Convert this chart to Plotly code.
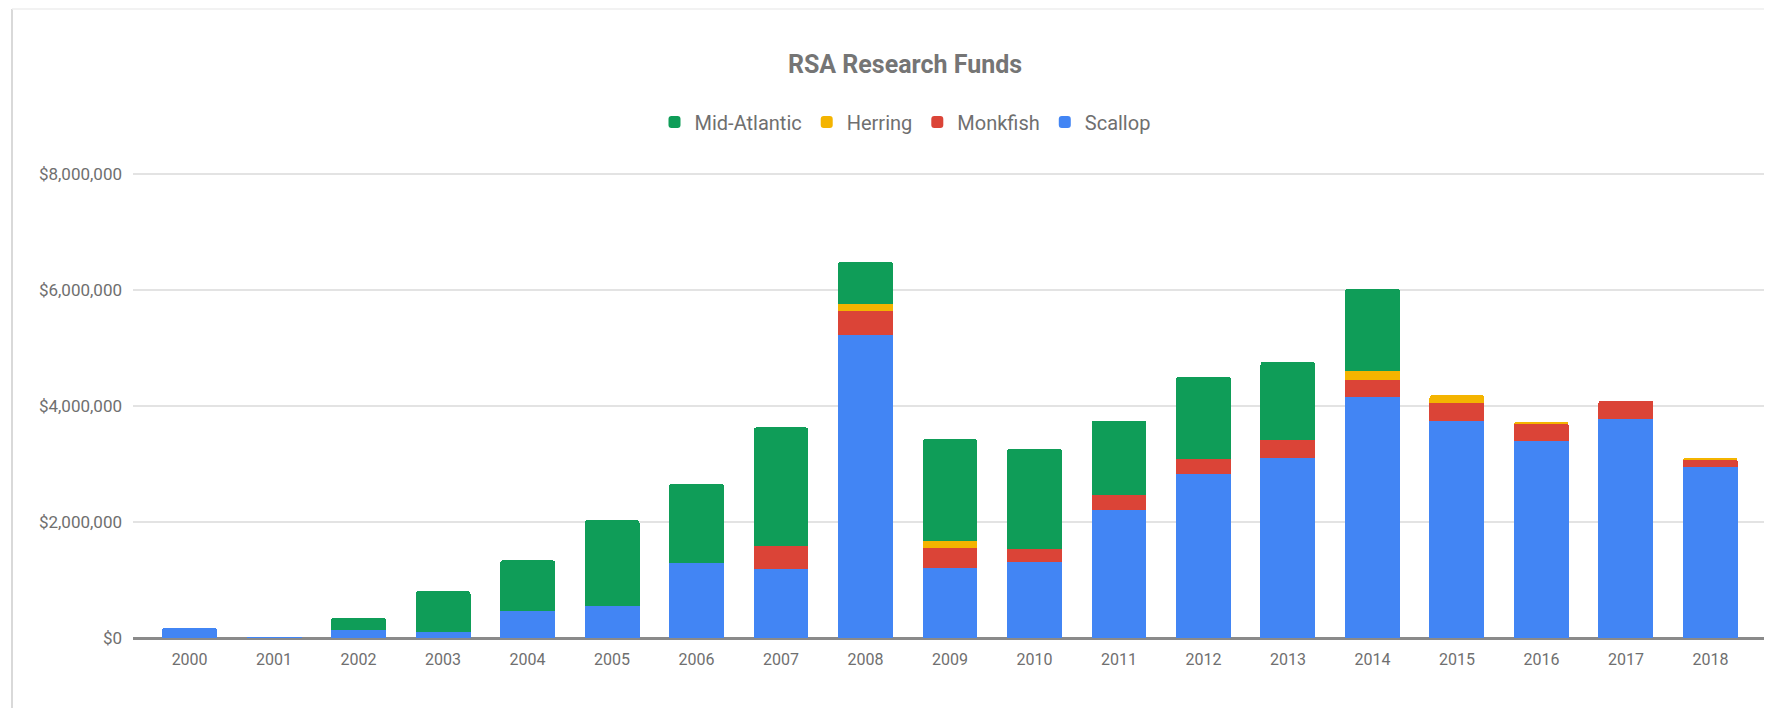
import plotly.graph_objects as go

years = [str(y) for y in range(2000, 2019)]
scallop = [180000, 15000, 140000, 110000, 460000, 560000, 1290000, 1190000, 5230000, 1210000,
           1310000, 2200000, 2830000, 3110000, 4160000, 3750000, 3390000, 3780000, 2940000]
monkfish = [0, 0, 0, 0, 0, 0, 0, 390000, 410000, 340000,
            220000, 260000, 260000, 300000, 290000, 300000, 310000, 310000, 130000]
herring = [0, 0, 0, 0, 0, 0, 0, 0, 120000, 130000,
           0, 0, 0, 0, 150000, 140000, 15000, 0, 30000]
mid_atlantic = [0, 0, 210000, 700000, 880000, 1470000, 1370000, 2050000, 720000, 1750000,
                1730000, 1290000, 1410000, 1350000, 1420000, 0, 0, 0, 0]
y_ticks = [0, 2000000, 4000000, 6000000, 8000000]
y_tick_text = ["$" + format(v, ",") for v in y_ticks]

series = [
    ("Scallop", scallop, "#4285F4"),
    ("Monkfish", monkfish, "#DB4437"),
    ("Herring", herring, "#F4B400"),
    ("Mid-Atlantic", mid_atlantic, "#0F9D58"),
]

fig = go.Figure()
for name, vals, color in series:
    fig.add_trace(go.Bar(x=years, y=vals, name=name, marker=dict(color=color, line=dict(width=0))))

# page body has an 8px margin, so the figure starts at (8, 8) in the window
W, H = 1764, 700
L, R, T, B = 125, 5, 164, 70
center_x = 897
y_top = 8000000 * (1 + 2 / 464)

fig.update_layout(
    width=W, height=H,
    barmode="stack",
    bargap=0.35,
    barcornerradius=3,
    paper_bgcolor="white",
    plot_bgcolor="white",
    margin=dict(l=L, r=R, t=T, b=B, pad=0),
    font=dict(family="Roboto", color="#727272"),
    title=dict(text="RSA Research Funds", x=center_x / W, xref="container", xanchor="center",
               y=1 - 56 / H, yref="container", yanchor="middle",
               font=dict(family="Roboto", size=25, color="#757575", weight="bold")),
    legend=dict(orientation="h", traceorder="reversed", x=center_x / W, xref="container",
                xanchor="center", y=1 - 114 / H, yref="container", yanchor="middle",
                font=dict(family="Roboto", size=20, color="#6f6f6f"),
                itemwidth=30, bgcolor="rgba(0,0,0,0)"),
    xaxis=dict(type="category", range=[-0.67, 18.67], showgrid=False, showline=False,
               ticks="", ticklabelstandoff=10,
               tickfont=dict(size=16, color="#6f6f6f"), zeroline=False),
    yaxis=dict(range=[0, y_top], tickvals=y_ticks, ticktext=y_tick_text,
               showgrid=True, gridcolor="#e3e3e3", gridwidth=1.5,
               zeroline=True, zerolinecolor="#8a8a8a", zerolinewidth=2.5,
               showline=False, ticks="", ticklabelstandoff=10,
               tickfont=dict(size=17, color="#6f6f6f")),
    showlegend=True,
)

px_w = W - L - R
px_h = H - T - B
fig.add_shape(type="line", xref="paper", yref="paper",
              x0=(4 - L) / px_w, x1=(4 - L) / px_w,
              y0=-B / px_h, y1=(H - 1 - B) / px_h,
              line=dict(color="#d9d9d9", width=2))
fig.add_shape(type="line", xref="paper", yref="paper",
              x0=(4 - L) / px_w, x1=1.0 + R / px_w,
              y0=(H - 1 - B) / px_h, y1=(H - 1 - B) / px_h,
              line=dict(color="#eeeeee", width=1.5))

fig.write_html("out.html")
